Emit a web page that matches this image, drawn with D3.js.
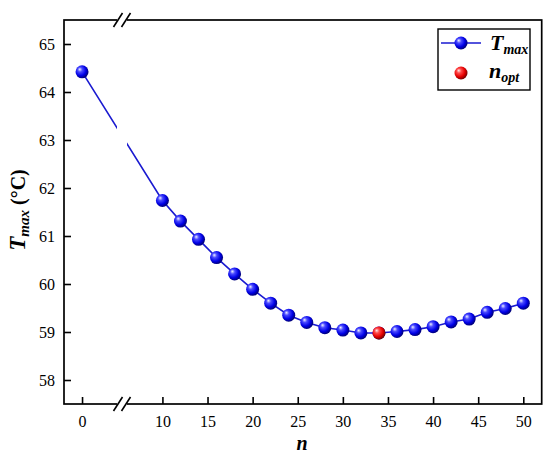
<!DOCTYPE html>
<html><head><meta charset="utf-8">
<script src="https://cdn.jsdelivr.net/npm/d3@7"></script>
<style>body{margin:0;background:#fff}svg{display:block}</style>
</head><body>
<svg id="c" width="550" height="462"></svg>
<script>
const nValues = [0,10,12,14,16,18,20,22,24,26,28,30,32,34,36,38,40,42,44,46,48,50];
const tmaxValues = [64.42,61.74,61.31,60.93,60.55,60.21,59.89,59.60,59.35,59.20,59.09,59.04,58.98,58.98,59.01,59.05,59.11,59.21,59.27,59.41,59.49,59.60];
const nOpt = [34];
const tOpt = [58.98];
const xTicks = [0,10,15,20,25,30,35,40,45,50];
const yTicks = [58,59,60,61,62,63,64,65];

const svg = d3.select('#c');
const L=64, R=541.7, T=20, B=404, BRK=122;
const x = d3.scaleLinear().domain([-2,4.43,5.52,52.04]).range([L,BRK,BRK,R]);
const y = d3.scaleLinear().domain([57.5,65.5]).range([B,T]);

const defs = svg.append('defs');
function grad(id, c0,c1,c2,c3){
  const g = defs.append('radialGradient').attr('id',id).attr('cx','40%').attr('cy','40%').attr('r','60%').attr('fx','32%').attr('fy','30%');
  g.append('stop').attr('offset','0%').attr('stop-color',c0);
  g.append('stop').attr('offset','30%').attr('stop-color',c1);
  g.append('stop').attr('offset','70%').attr('stop-color',c2);
  g.append('stop').attr('offset','100%').attr('stop-color',c3);
}
grad('gb','#eef0ff','#4a4aff','#0000e6','#00007a');
grad('gr','#ffe8e8','#ff4a4a','#e60000','#7a0000');
const mask = defs.append('mask').attr('id','gap');
mask.append('rect').attr('x',0).attr('y',0).attr('width',550).attr('height',462).attr('fill','#fff');
mask.append('rect').attr('x',BRK-5).attr('y',0).attr('width',10).attr('height',462).attr('fill','#000');

// line
const line = d3.line().x((d,i)=>x(nValues[i])).y(d=>y(d));
svg.append('path').attr('d',line(tmaxValues)).attr('fill','none').attr('stroke','#1a1ad0').attr('stroke-width',1.6).attr('mask','url(#gap)');

// markers
svg.append('g').selectAll('circle').data(tmaxValues).join('circle')
  .attr('cx',(d,i)=>x(nValues[i])).attr('cy',d=>y(d)).attr('r',6.5).attr('fill','url(#gb)');
svg.append('g').selectAll('circle').data(tOpt).join('circle')
  .attr('cx',(d,i)=>x(nOpt[i])).attr('cy',d=>y(d)).attr('r',6.5).attr('fill','url(#gr)');

// axes
const font = '"Liberation Serif","Times New Roman",serif';
const ax = svg.append('g').attr('transform',`translate(0,${B})`)
  .call(d3.axisBottom(x).tickValues(xTicks).tickSize(-7).tickPadding(12).tickFormat(d3.format('d')));
const ay = svg.append('g').attr('transform',`translate(${L},0)`)
  .call(d3.axisLeft(y).tickValues(yTicks).tickSize(-7).tickPadding(9).tickFormat(d3.format('d')));
[ax,ay].forEach(a=>{
  a.select('.domain').remove();
  a.selectAll('.tick line').attr('stroke','#000').attr('stroke-width',1.6);
  a.selectAll('.tick text').attr('font-family',font).attr('font-size',16).attr('fill','#000');
});
// frame
svg.append('rect').attr('x',L).attr('y',T).attr('width',R-L).attr('height',B-T)
  .attr('fill','none').attr('stroke','#000').attr('stroke-width',1.7);

// breaks
[T,B].forEach(yy=>{
  svg.append('rect').attr('x',BRK-5).attr('y',yy-3).attr('width',10).attr('height',6).attr('fill','#fff');
  [-4,4].forEach(dx=>{
    svg.append('line').attr('x1',BRK+dx-4.5).attr('y1',yy+7).attr('x2',BRK+dx+4.5).attr('y2',yy-7)
      .attr('stroke','#000').attr('stroke-width',1.6);
  });
});

// axis titles
svg.append('text').attr('x',302).attr('y',450).attr('text-anchor','middle')
  .attr('font-family',font).attr('font-size',20).attr('font-weight','bold').attr('font-style','italic').text('n');
const yt = svg.append('text').attr('transform',`translate(25,210) rotate(-90)`).attr('text-anchor','middle')
  .attr('font-family',font).attr('font-weight','bold').attr('font-size',20);
yt.append('tspan').attr('font-style','italic').attr('font-size',23).text('T');
yt.append('tspan').attr('font-style','italic').attr('font-size',15).attr('dy',4).text('max');
yt.append('tspan').attr('dy',-4).attr('font-size',20).text(' (°C)');

// legend
const lg = svg.append('g');
lg.append('rect').attr('x',438).attr('y',29).attr('width',92).attr('height',61)
  .attr('fill','#fff').attr('stroke','#000').attr('stroke-width',1.4);
lg.append('line').attr('x1',441).attr('x2',481).attr('y1',43).attr('y2',43).attr('stroke','#1a1ad0').attr('stroke-width',1.6);
lg.append('circle').attr('cx',461).attr('cy',43).attr('r',6.5).attr('fill','url(#gb)');
lg.append('circle').attr('cx',461).attr('cy',73).attr('r',6.5).attr('fill','url(#gr)');
const t1 = lg.append('text').attr('x',490).attr('y',50).attr('font-family',font).attr('font-weight','bold').attr('font-style','italic');
t1.append('tspan').attr('font-size',22).text('T');
t1.append('tspan').attr('font-size',14).attr('dy',4).text('max');
const t2 = lg.append('text').attr('x',489).attr('y',78).attr('font-family',font).attr('font-weight','bold').attr('font-style','italic');
t2.append('tspan').attr('font-size',22).text('n');
t2.append('tspan').attr('font-size',14).attr('dy',4).text('opt');
</script>
</body></html>
